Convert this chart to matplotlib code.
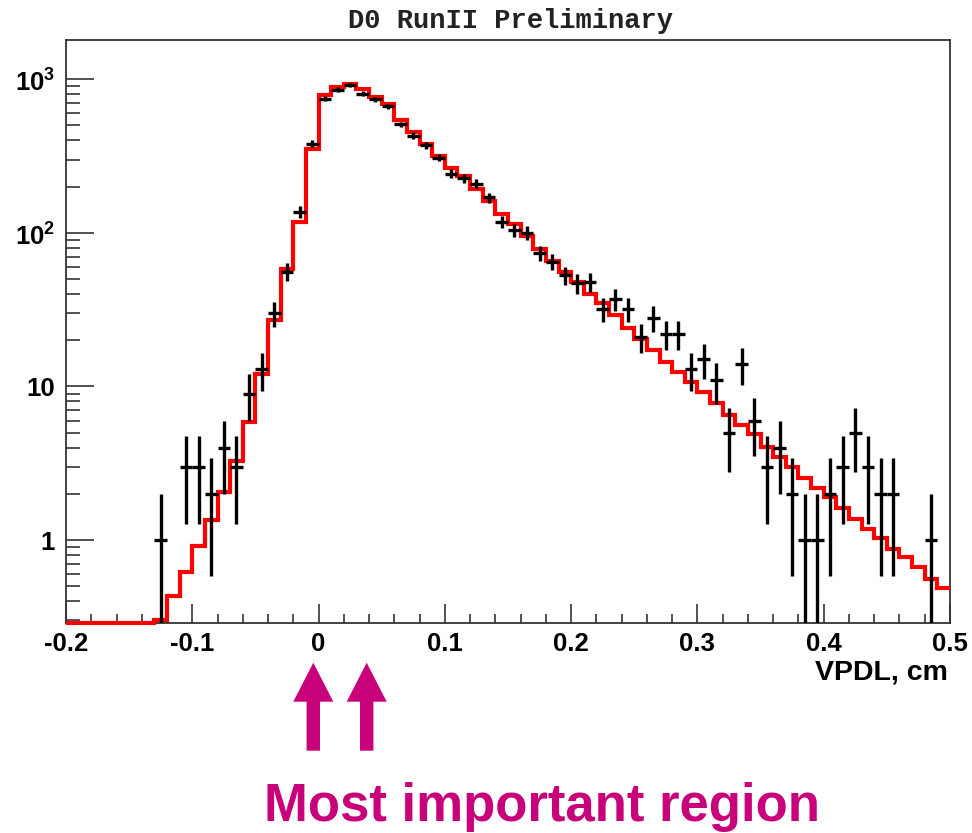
import numpy as np
import matplotlib
matplotlib.use("Agg")
import matplotlib.pyplot as plt
from matplotlib.patches import Polygon
from matplotlib.ticker import FixedLocator, FixedFormatter, MultipleLocator, LogLocator, NullFormatter

# ---------------- data ----------------
# fit / MC histogram: bin edges (0.01 wide) and contents
bin_edges = np.round(np.linspace(-0.20, 0.50, 71), 3)
mc_values = [0.29, 0.29, 0.29, 0.29, 0.29, 0.29, 0.29,
             0.30, 0.43, 0.62, 0.92, 1.35, 2.06, 3.27, 5.9, 12, 27,
             58, 118, 350, 785, 885, 925, 860, 765, 690, 541,
             450, 381, 318, 266, 235, 193, 160, 133, 114, 96,
             78, 66, 56, 48, 40, 34.7, 29, 24, 20.5, 17.2,
             14.5, 12.4, 10.7, 9.2, 7.75, 6.5, 5.6, 4.9, 4.05, 3.48,
             3.0, 2.55, 2.2, 1.9, 1.61, 1.38, 1.19, 1.03, 0.88, 0.78,
             0.67, 0.56, 0.49]

# data points: bin centres and event counts
data_x = [-0.125, -0.105, -0.095, -0.085, -0.075, -0.065, -0.055, -0.045, -0.035,
          -0.025, -0.015, -0.005, 0.005, 0.015, 0.025, 0.035, 0.045, 0.055, 0.065,
          0.075, 0.085, 0.095, 0.105, 0.115, 0.125, 0.135, 0.145, 0.155, 0.165,
          0.175, 0.185, 0.195, 0.205, 0.215, 0.225, 0.235, 0.245, 0.255, 0.265,
          0.275, 0.285, 0.295, 0.305, 0.315, 0.325, 0.335, 0.345, 0.355, 0.365,
          0.375, 0.385, 0.395, 0.405, 0.415, 0.425, 0.435, 0.445, 0.455, 0.485]
data_n = [1, 3, 3, 2, 4, 3, 9, 13, 30,
          56, 137, 381, 745, 857, 915, 805, 738, 665, 508,
          430, 372, 309, 243, 226, 209, 170, 118, 104, 100,
          74, 65, 53, 47, 48, 32, 37, 32, 21, 28,
          22, 22, 13, 15, 11, 5, 14, 6, 3, 4,
          2, 1, 1, 2, 3, 5, 3, 2, 2, 1]

x_ticks = [-0.2, -0.1, 0.0, 0.1, 0.2, 0.3, 0.4, 0.5]
x_ticklabels = ["-0.2", "-0.1", "0", "0.1", "0.2", "0.3", "0.4", "0.5"]
y_ticks = [1, 10, 100, 1000]
y_ticklabels = ["1", "10", r"$\mathbf{10}^{\mathbf{2}}$", r"$\mathbf{10}^{\mathbf{3}}$"]

title_text = "D0 RunII Preliminary"
x_label = "VPDL, cm"
note_text = "Most important region"

# ---------------- style ----------------
plt.rcParams["font.family"] = ["Liberation Sans", "DejaVu Sans"]
plt.rcParams["mathtext.fontset"] = "custom"
plt.rcParams["mathtext.rm"] = "Liberation Sans"
plt.rcParams["mathtext.bf"] = "Liberation Sans:bold"

W, H = 972, 833
fig = plt.figure(figsize=(W / 100, H / 100), dpi=100)
fig.patch.set_facecolor("white")

ax_l, ax_r, ax_t, ax_b = 66, 950, 40, 622.7
ax = fig.add_axes([ax_l / W, 1 - ax_b / H, (ax_r - ax_l) / W, (ax_b - ax_t) / H])

ax.set_yscale("log")
ax.set_xlim(-0.2, 0.5)
ax.set_ylim(0.29, 1800)

# red histogram
ax.stairs(mc_values, bin_edges, baseline=None, color="#ff0000", lw=3.0, zorder=3,
          clip_on=False)

# data with Poisson errors
dn = np.array(data_n, dtype=float)
err = np.sqrt(dn)
ax.errorbar(data_x, data_n, xerr=0.005, yerr=[np.minimum(err, dn * 0.9999), err],
            fmt="none", ecolor="black", elinewidth=2.4, capsize=0, zorder=4)

# frame
for s in ax.spines.values():
    s.set_color("#333333")
    s.set_linewidth(1.3)

# ticks
ax.xaxis.set_major_locator(FixedLocator(x_ticks))
ax.xaxis.set_major_formatter(FixedFormatter(x_ticklabels))
ax.xaxis.set_minor_locator(MultipleLocator(0.02))
ax.yaxis.set_major_locator(FixedLocator(y_ticks))
ax.yaxis.set_major_formatter(FixedFormatter(y_ticklabels))
ax.yaxis.set_minor_locator(LogLocator(base=10, subs=np.arange(2, 10)))
ax.yaxis.set_minor_formatter(NullFormatter())

ax.tick_params(axis="both", which="both", direction="in", color="#333333", width=1.2)
ax.tick_params(axis="x", which="major", length=13.5, pad=6.5, top=False, labelsize=18.5)
ax.tick_params(axis="x", which="minor", length=6.5, top=False)
ax.tick_params(axis="y", which="major", length=20, pad=8, right=False, labelsize=18.5)
ax.tick_params(axis="y", which="minor", length=10, right=False)
for lab in ax.get_xticklabels() + ax.get_yticklabels():
    lab.set_fontweight("bold")

# title and axis label
fig.text(510 / W, 1 - 28.3 / H, title_text, family="Liberation Mono", fontsize=19.5,
         fontweight="bold", ha="center", va="baseline", color="#222222")
fig.text(948 / W, 1 - 679 / H, x_label, fontsize=20.5, fontweight="bold",
         ha="right", va="baseline", color="black")

# magenta arrows and note
mag = "#c8007a"
def arrow_pts(cx):
    pts = [(cx - 6.7, 750.7), (cx + 6.7, 750.7), (cx + 6.7, 701.7), (cx + 20, 701.7),
           (cx, 662.7), (cx - 20, 701.7), (cx - 6.7, 701.7)]
    return [(px / W, 1 - py / H) for px, py in pts]

for cx in (313.3, 366.7):
    fig.patches.append(Polygon(arrow_pts(cx), closed=True, transform=fig.transFigure,
                               facecolor=mag, edgecolor="none"))

fig.text(542 / W, 1 - 821 / H, note_text, fontsize=38, fontweight="bold",
         color=mag, ha="center", va="baseline")

fig.savefig("out.png", dpi=100, facecolor="white")
